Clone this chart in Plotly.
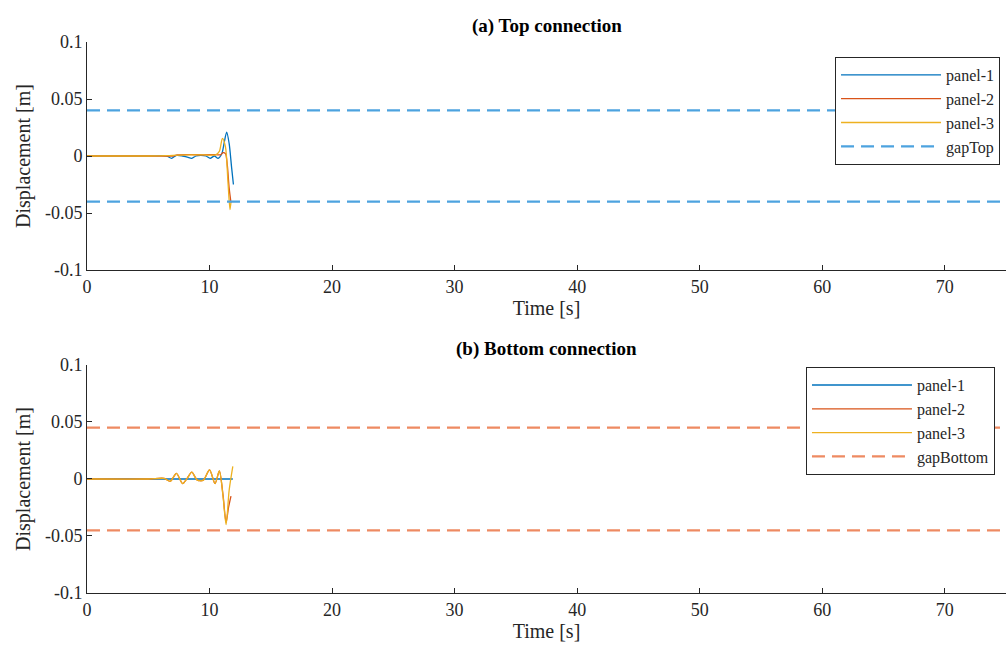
import plotly.graph_objects as go

# ---------------- data ----------------
# (a) Top connection
t_p1_top = [0, 5.0, 6.5, 6.9, 7.3, 7.8, 8.2, 8.55, 8.9, 9.3, 9.7, 10.05, 10.4, 10.7, 11.0, 11.2, 11.4, 11.6, 11.8, 11.95]
p1_top = [0, 0, 0, -0.002, 0.0005, 0, -0.001, -0.002, 0, 0.0005, 0, -0.002, 0, -0.002, 0.002, 0.012, 0.021, 0.011, -0.010, -0.025]

t_p2_top = [0, 5.0, 7.0, 7.4, 8.5, 9.5, 10.5, 10.9, 11.1, 11.3, 11.45, 11.6, 11.75]
p2_top = [0, 0, 0, 0.001, 0.0012, 0.001, 0.0012, 0.001, 0.003, 0.002, -0.008, -0.028, -0.041]

t_p3_top = [0, 5.0, 6.5, 7.5, 8.5, 9.5, 10.5, 10.8, 11.05, 11.3, 11.5, 11.67, 11.75]
p3_top = [0, 0, 0.0003, 0.0008, 0.001, 0.001, 0.001, 0.004, 0.0155, 0.008, -0.022, -0.047, -0.040]

gap_top = 0.04

# (b) Bottom connection
t_p1_bot = [0, 11.9]
p1_bot = [0, 0]

t_p2_bot = [0, 5.0, 6.3, 6.8, 7.3, 7.8, 8.2, 8.55, 9.0, 9.5, 10.0, 10.45, 10.8, 11.1, 11.35, 11.55, 11.75]
p2_bot = [0, 0, 0.0005, -0.002, 0.005, -0.004, 0.001, 0.006, -0.001, -0.001, 0.008, -0.004, 0.007, -0.014, -0.038, -0.025, -0.015]

t_p3_bot = [0, 5.0, 6.3, 6.8, 7.3, 7.8, 8.2, 8.55, 9.0, 9.5, 10.0, 10.45, 10.8, 11.1, 11.35, 11.6, 11.9]
p3_bot = [0, 0, 0.0005, -0.002, 0.005, -0.004, 0.001, 0.006, -0.001, -0.001, 0.008, -0.004, 0.007, -0.015, -0.040, -0.010, 0.011]

gap_bot = 0.045

x_range = [0, 75]
x_ticks = [0, 10, 20, 30, 40, 50, 60, 70]
y_ticks = [-0.1, -0.05, 0, 0.05, 0.1]
y_ticklabels = ["-0.1", "-0.05", "0", "0.05", "0.1"]

C1, C2, C3 = "#0072BD", "#D95319", "#EDB120"
GAP_TOP_C = "#4DA3DF"
GAP_BOT_C = "#EE8A62"
FONT = "Liberation Serif"
AX_C = "#262626"

fig = go.Figure()

def add_panel(xa, ya, legend, data, gap, gapname, gapcolor):
    for (t, v, name, c) in data:
        fig.add_trace(go.Scatter(x=t, y=v, name=name, mode="lines",
                                 line=dict(color=c, width=1.3, shape="spline", smoothing=0.8),
                                 xaxis=xa, yaxis=ya, legend=legend))
    fig.add_trace(go.Scatter(x=x_range, y=[gap, gap], name=gapname, mode="lines",
                             line=dict(color=gapcolor, width=2.2, dash="13px,7px"),
                             xaxis=xa, yaxis=ya, legend=legend))
    fig.add_trace(go.Scatter(x=x_range, y=[-gap, -gap], name=gapname, mode="lines",
                             line=dict(color=gapcolor, width=2.2, dash="13px,7px"),
                             xaxis=xa, yaxis=ya, legend=legend, showlegend=False))

add_panel("x", "y", "legend",
          [(t_p1_top, p1_top, "panel-1", C1), (t_p2_top, p2_top, "panel-2", C2), (t_p3_top, p3_top, "panel-3", C3)],
          gap_top, "gapTop", GAP_TOP_C)
add_panel("x2", "y2", "legend2",
          [(t_p1_bot, p1_bot, "panel-1", C1), (t_p2_bot, p2_bot, "panel-2", C2), (t_p3_bot, p3_bot, "panel-3", C3)],
          gap_bot, "gapBottom", GAP_BOT_C)

xcommon = dict(range=x_range, tickvals=x_ticks, ticks="inside", ticklen=5, tickcolor=AX_C,
               showline=True, linecolor=AX_C, linewidth=1, showgrid=False, zeroline=False,
               tickfont=dict(family=FONT, size=18, color=AX_C),
               title=dict(text="Time [s]", font=dict(family=FONT, size=20, color=AX_C), standoff=4))
ycommon = dict(range=[-0.1, 0.1], tickvals=y_ticks, ticktext=y_ticklabels, ticks="inside", ticklen=5,
               tickcolor=AX_C, showline=True, linecolor=AX_C, linewidth=1, showgrid=False, zeroline=False,
               tickfont=dict(family=FONT, size=18, color=AX_C),
               title=dict(text="Displacement [m]", font=dict(family=FONT, size=20, color=AX_C), standoff=8))

legcommon = dict(bgcolor="white", bordercolor=AX_C, borderwidth=1,
                 font=dict(family=FONT, size=16, color=AX_C), itemwidth=100,
                 xanchor="right", yanchor="top", tracegroupgap=0)

fig.update_layout(
    width=1006, height=650,
    margin=dict(l=87, r=0, t=42, b=57),
    paper_bgcolor="white", plot_bgcolor="white",
    xaxis=dict(domain=[0, 1], anchor="y", **xcommon),
    yaxis=dict(domain=[0.5862, 1], anchor="x", **ycommon),
    xaxis2=dict(domain=[0, 1], anchor="y2", **xcommon),
    yaxis2=dict(domain=[0, 0.4138], anchor="x2", **ycommon),
    legend=dict(x=0.9935, y=0.9728, **legcommon),
    legend2=dict(x=0.988, y=0.410, **legcommon),
    annotations=[
        dict(text="<b>(a) Top connection</b>", x=0.5, y=1, xref="paper", yref="paper",
             xanchor="center", yanchor="bottom", yshift=3, showarrow=False,
             font=dict(family=FONT, size=19, color="black")),
        dict(text="<b>(b) Bottom connection</b>", x=0.5, y=0.4138, xref="paper", yref="paper",
             xanchor="center", yanchor="bottom", yshift=3, showarrow=False,
             font=dict(family=FONT, size=19, color="black")),
    ],
)

fig.write_html("out.html", config={"displayModeBar": False},
               post_script="document.body.style.margin='0';document.body.style.overflow='hidden';")
